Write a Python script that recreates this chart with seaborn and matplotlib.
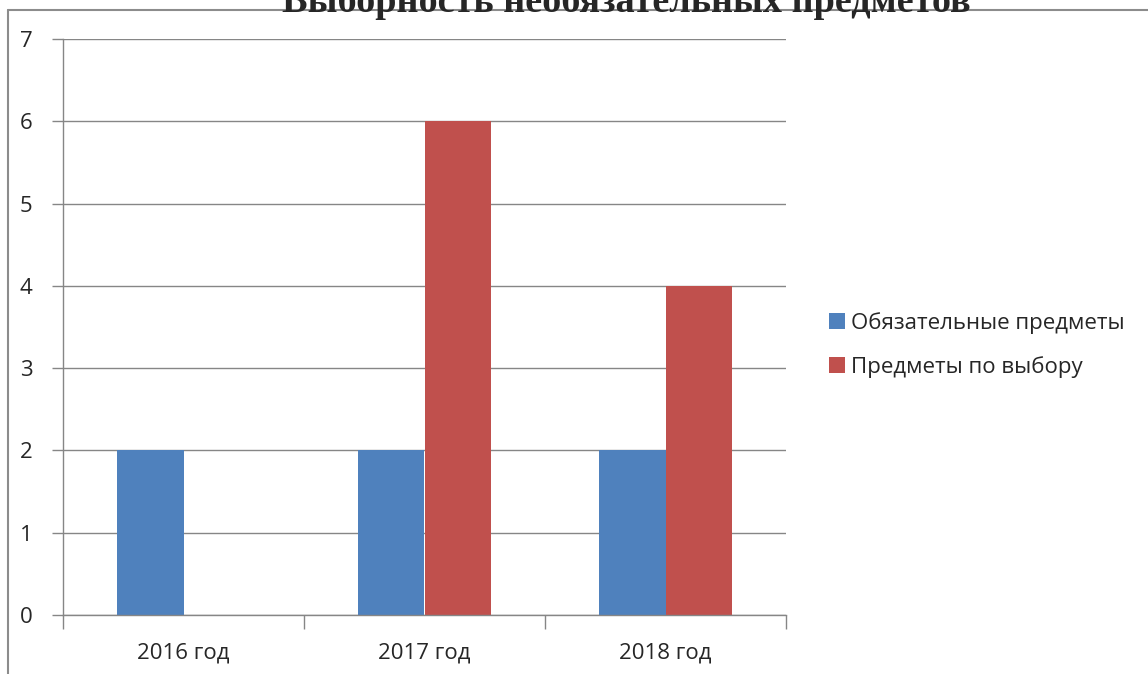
import pandas as pd
import numpy as np
import matplotlib.pyplot as plt
import seaborn as sns
from matplotlib.lines import Line2D
from matplotlib.patches import Patch

# data
years = ['2016 год', '2017 год', '2018 год']
series = ['Обязательные предметы', 'Предметы по выбору']
required = [2, 2, 2]
elective = [0, 6, 4]
colors = ['#4F81BD', '#C0504D']
title = 'Выборность необязательных предметов'

df = pd.DataFrame({
    'year': years * 2,
    'series': [series[0]] * 3 + [series[1]] * 3,
    'value': required + elective,
})

sns.set_style('white')
plt.rcParams['font.family'] = ['Open Sans', 'DejaVu Sans']

W, H = 1148, 674
fig = plt.figure(figsize=(W / 100, H / 100), dpi=100)
ax = fig.add_axes([63 / W, (H - 615) / H, (786 - 63) / W, (615 - 39) / H])

sns.barplot(data=df, x='year', y='value', hue='series', palette=colors,
            width=0.556, gap=0, saturation=1, linewidth=0, ax=ax, legend=False)

ax.set_xlim(-0.5, 2.5)
ax.set_ylim(0, 7)
ax.set_yticks(range(0, 8))
ax.set_xlabel('')
ax.set_ylabel('')
ax.yaxis.grid(True, color='#868686', linewidth=1)
ax.set_axisbelow(True)
for s in ['top', 'right']:
    ax.spines[s].set_visible(False)
for s in ['left', 'bottom']:
    ax.spines[s].set_color('#868686')
    ax.spines[s].set_linewidth(1)

ax.tick_params(axis='y', length=8, width=1, color='#868686', pad=14,
               labelsize=16, direction='out', left=True)
ax.set_xticks([-0.5, 0.5, 1.5, 2.5], minor=True)
ax.tick_params(axis='x', which='major', length=0, pad=20, labelsize=16)
ax.tick_params(axis='x', which='minor', length=10, width=1, color='#868686',
               direction='out', bottom=True)

# outer chart frame
fig.add_artist(Line2D([8 / W, 8 / W], [0, 1 - 10 / H], color='#8c8c8c', lw=1.5))
fig.add_artist(Line2D([8 / W, 1], [1 - 10 / H, 1 - 10 / H], color='#8c8c8c', lw=1.5))

# title sits above the frame and is clipped at the top, as in the original
fig.text(626 / W, 1 - 12 / H, title, ha='center', va='baseline',
         fontsize=27.5, fontweight='bold', family='Liberation Serif')

handles = [Patch(facecolor=c, edgecolor='none') for c in colors]
fig.legend(handles, series, loc='center left', bbox_to_anchor=(809 / W, 1 - 345 / H),
           frameon=False, fontsize=16, handlelength=0.7, handleheight=0.7,
           handletextpad=0.3, labelspacing=1.0)

fig.savefig('out.png', dpi=100)
